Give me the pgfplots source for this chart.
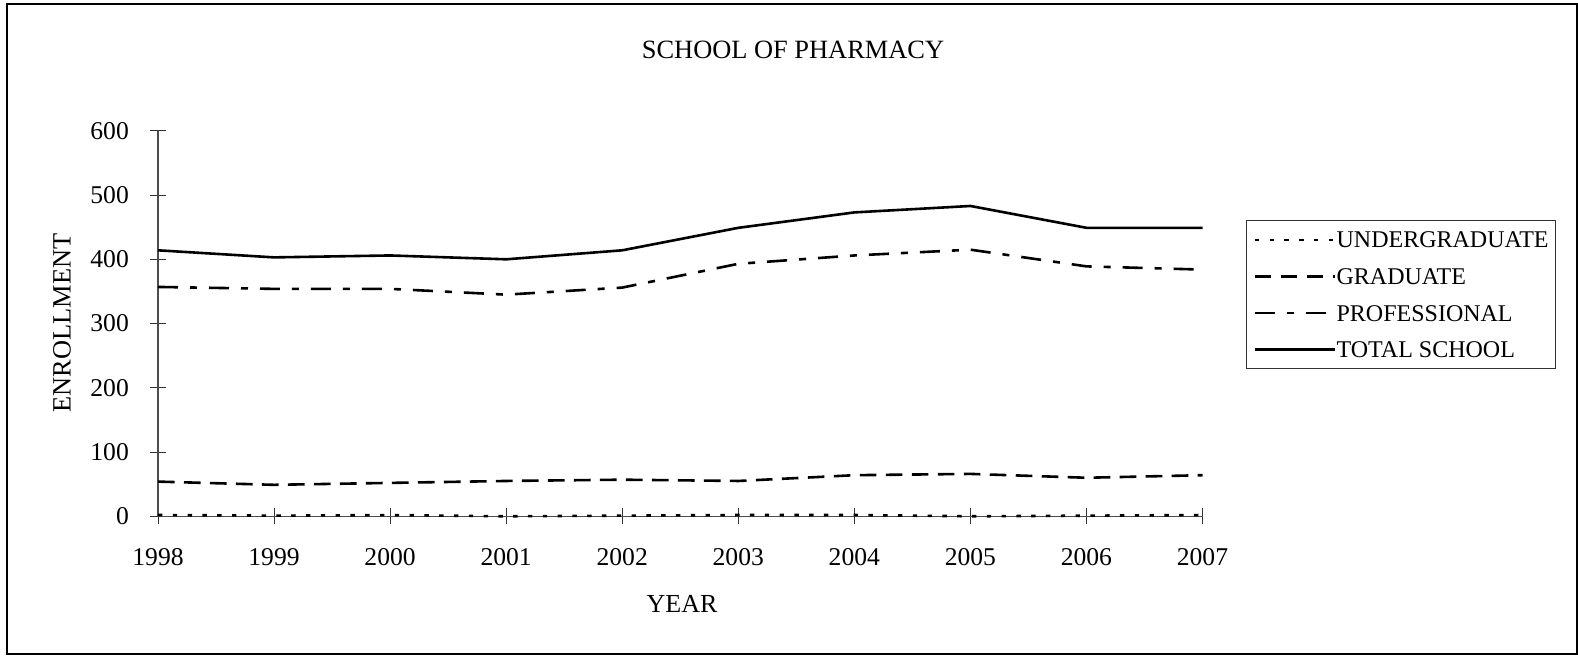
\documentclass[border=0pt]{standalone}
\usepackage{fontspec}
\setmainfont{Liberation Serif}
\usepackage{pgfplots}
\pgfplotsset{compat=1.18}
\begin{document}
\begin{tikzpicture}[x=1pt,y=1pt]
\useasboundingbox (0,0) rectangle (789,327.5);
\draw[line width=0.7pt] (3.5,0.6) rectangle (788.4,325.5);
\node[font=\fontsize{13.2}{15}\selectfont] at (396.5,302.5) {SCHOOL OF PHARMACY};
\node[font=\fontsize{13}{15}\selectfont] at (341,25.5) {YEAR};
\node[font=\fontsize{13.2}{15}\selectfont, rotate=90] at (31,166) {ENROLLMENT};
\begin{axis}[
  at={(79pt,69.35pt)}, anchor=south west,
  scale only axis, width=522.3pt, height=192.75pt,
  xmin=1998, xmax=2007, ymin=0, ymax=600,
  axis lines=left,
  axis line style={-, line width=0.6pt, black!70},
  tick align=center, major tick length=8pt,
  tick style={black!80, line width=0.5pt},
  xtick={1998,1999,...,2007}, ytick={0,100,...,600},
  /pgf/number format/1000 sep={},
  /pgf/number format/assume math mode=true,
  tick label style={font=\fontsize{12.8}{15}\selectfont},
  yticklabel style={inner sep=0pt, xshift=-10.4pt},
  xticklabel style={inner sep=0pt, yshift=-12pt},
  clip=false,
  legend style={at={(1.0416,0.7676)}, anchor=north west, draw=black!80,
    font=\fontsize{12}{14}\selectfont, inner xsep=3.5pt, inner ysep=5pt, row sep=9.3pt,
    nodes={inner sep=0pt, text height=8.5pt, text depth=0.5pt}},
  legend cell align=left,
  legend image code/.code={\draw[#1, line cap=butt, line width=1.3pt] (0pt,0pt) -- (40.3pt,0pt);},
  every even column/.style={column sep=2.5pt},
]
\addplot[black, line width=1.3pt, dash pattern=on 2.2pt off 5.2pt] coordinates {
(1998,2) (1999,1) (2000,2) (2001,0) (2002,1) (2003,2) (2004,2) (2005,0) (2006,1) (2007,2)};
\addlegendentry{UNDERGRADUATE}
\addplot[black, line width=1.3pt, dash pattern=on 8.3pt off 4.7pt] coordinates {
(1998,54) (1999,49) (2000,52) (2001,55) (2002,57) (2003,55) (2004,64) (2005,66) (2006,60) (2007,64)};
\addlegendentry{GRADUATE}
\addplot[black, line width=1.3pt, dash pattern=on 10pt off 6pt on 3.5pt off 6pt] coordinates {
(1998,357) (1999,354) (2000,354) (2001,345) (2002,356) (2003,393) (2004,406) (2005,415) (2006,389) (2007,384)};
\addlegendentry{PROFESSIONAL}
\addplot[black, line width=1.3pt] coordinates {
(1998,414) (1999,403) (2000,406) (2001,400) (2002,414) (2003,449) (2004,473) (2005,483) (2006,449) (2007,449)};
\addlegendentry{TOTAL SCHOOL}
\end{axis}
\end{tikzpicture}
\end{document}
